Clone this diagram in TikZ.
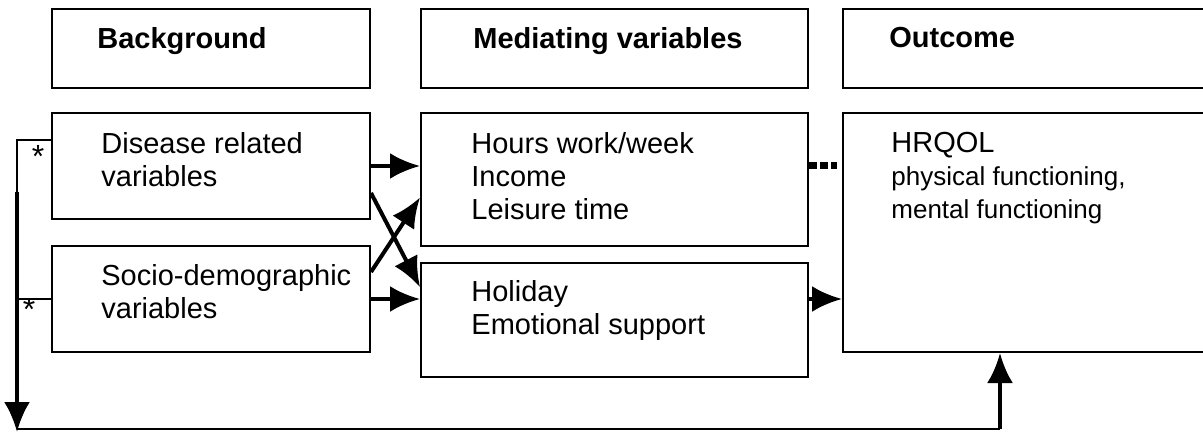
\documentclass[tikz,border=0pt]{standalone}
\usepackage{fontspec}
\setmainfont{Liberation Sans}
\usetikzlibrary{arrows.meta,calc}

\begin{document}
\begin{tikzpicture}[x=0.5pt,y=-0.5pt,
  box/.style={draw,line width=1pt,inner sep=0pt},
  head/.style={anchor=north west,inner sep=0pt,font=\fontsize{14.5}{16.5}\selectfont\bfseries},
  txt/.style={anchor=north west,inner sep=0pt,align=left,font=\fontsize{14.5}{16.5}\selectfont},
  arr/.style={-{Latex[length=15pt,width=13pt]},line width=2pt},
  fbline/.style={line width=1pt},
  dotlink/.style={line width=3.5pt,dash pattern=on 4pt off 1.5pt}]
\useasboundingbox (0,0) rectangle (1203,432);

\node[box,minimum width=159pt,minimum height=39.5pt] (bghead) at (211,48.5) {};
\node[box,minimum width=193.5pt,minimum height=39.5pt] (medhead) at (614.5,48.5) {};
\node[box,minimum width=182.5pt,minimum height=39.5pt] (outhead) at (1025.5,48.5) {};
\node[head] (bgtitle) at (97,27) {Background};
\node[head] (medtitle) at (473,27) {Mediating variables};
\node[head] (outtitle) at (889,27) {Outcome};

\node[box,minimum width=159pt,minimum height=53pt] (disease) at (211,166) {};
\node[box,minimum width=159pt,minimum height=53pt] (socio) at (211,299) {};
\node[box,minimum width=193.5pt,minimum height=66.5pt] (work) at (614.5,179.5) {};
\node[box,minimum width=193.5pt,minimum height=57pt] (holiday) at (614.5,320) {};
\node[box,minimum width=182.5pt,minimum height=119.5pt] (hrqol) at (1025.5,232.5) {};

\node[txt] (diseasetxt) at (101,132) {Disease related\\variables};
\node[txt] (sociotxt) at (101,264) {Socio-demographic\\variables};
\node[txt] (worktxt) at (471,132) {Hours work/week\\Income\\Leisure time};
\node[txt] (holidaytxt) at (471,280) {Holiday\\Emotional support};
\node[txt] (hrqoltxt) at (891,132) {HRQOL\\{\fontsize{13}{16.5}\selectfont physical functioning,}\\{\fontsize{13}{16.5}\selectfont mental functioning}};

\draw[arr] (disease.east) -- (disease.east -| work.west);
\draw[arr] ($(disease.east)+(0,27)$) -- ($(holiday.west)+(0,-33)$);
\draw[arr] ($(socio.east)+(0,-27)$) -- ($(work.west)+(0,18)$);
\draw[arr] (socio.east) -- (socio.east -| holiday.west);
\draw[dotlink] (work.east |- disease.east) -- ($(hrqol.west |- disease.east)+(-5,0)$);
\draw[arr] (holiday.east |- socio.east) -- (hrqol.west |- socio.east);

% feedback loop
\coordinate (fbtop) at (17,140);
\coordinate (fbmid) at (17,192);
\coordinate (fbbot) at (17,432);
\coordinate (fbcorner) at (17,429);
\coordinate (fbright) at (1000,429);
\draw[fbline] (disease.west |- fbtop) -- (fbtop) -- (fbmid);
\draw[arr] (fbmid) -- (fbbot);
\draw[fbline] (socio.west) -- (socio.west -| fbtop);
\draw[fbline] (fbcorner) -- (fbright);
\draw[arr] (fbright) -- (hrqol.south -| fbright);
\node[anchor=base,inner sep=0pt,font=\fontsize{16}{18}\selectfont] (ast1) at (38,168) {*};
\node[anchor=base,inner sep=0pt,font=\fontsize{16}{18}\selectfont] (ast2) at (29,321) {*};
\end{tikzpicture}
\end{document}
